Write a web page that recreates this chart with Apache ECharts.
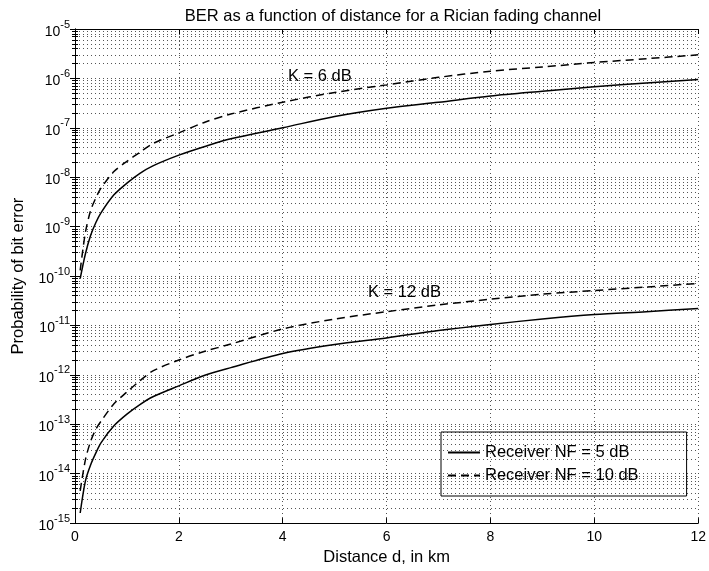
<!DOCTYPE html>
<html>
<head>
<meta charset="utf-8">
<script src="https://cdn.jsdelivr.net/npm/echarts@6/dist/echarts.min.js"></script>
<style>
html,body{margin:0;padding:0;background:#fff;}
#chart{width:709px;height:571px;}
</style>
</head>
<body>
<div id="chart"></div>
<script>
// Distance d (km)
var distance = [0.1, 0.2, 0.3, 0.4, 0.5, 0.75, 1, 1.25, 1.5, 2, 2.5, 3, 4, 5, 6, 7, 8, 9, 10, 11, 12];
// K = 6 dB, receiver NF = 5 dB
var k6_nf5 = [8.9e-11, 2.8e-10, 6.6e-10, 1.2e-9, 1.9e-9, 4.4e-9, 7.6e-9, 1.2e-8, 1.7e-8, 2.8e-8, 4.2e-8, 6.0e-8, 1.0e-7, 1.7e-7, 2.5e-7, 3.3e-7, 4.4e-7, 5.5e-7, 6.8e-7, 8.1e-7, 9.5e-7];
// K = 6 dB, receiver NF = 10 dB
var k6_nf10 = [1.3e-10, 7.6e-10, 2.1e-9, 3.8e-9, 6.0e-9, 1.3e-8, 2.1e-8, 3.2e-8, 4.8e-8, 7.9e-8, 1.3e-7, 1.9e-7, 3.3e-7, 5.2e-7, 7.4e-7, 1.05e-6, 1.4e-6, 1.7e-6, 2.1e-6, 2.5e-6, 3.0e-6];
// K = 12 dB, receiver NF = 5 dB
var k12_nf5 = [1.6e-15, 7.1e-15, 1.5e-14, 2.6e-14, 4.2e-14, 9.3e-14, 1.6e-13, 2.5e-13, 3.6e-13, 6.0e-13, 9.8e-13, 1.4e-12, 2.7e-12, 4.1e-12, 5.6e-12, 7.9e-12, 1.05e-11, 1.35e-11, 1.66e-11, 1.9e-11, 2.2e-11];
// K = 12 dB, receiver NF = 10 dB
var k12_nf10 = [4.5e-15, 1.9e-14, 4.5e-14, 7.9e-14, 1.15e-13, 2.6e-13, 4.5e-13, 7.6e-13, 1.2e-12, 2.0e-12, 3.0e-12, 4.2e-12, 8.5e-12, 1.35e-11, 1.9e-11, 2.6e-11, 3.4e-11, 4.3e-11, 5.1e-11, 6.0e-11, 7.1e-11];

var seriesNames = ['Receiver NF = 5 dB', 'Receiver NF = 10 dB'];
var xTicks = [0, 2, 4, 6, 8, 10, 12];
var titleText = 'BER as a function of distance for a Rician fading channel';
var xName = 'Distance d, in km';
var yName = 'Probability of bit error';
var annotations = ['K = 6 dB', 'K = 12 dB'];

function pairs(ys) { return distance.map(function (d, i) { return [d, ys[i]]; }); }

var FONT = '"Liberation Sans", Arial, Helvetica, sans-serif';
var FS = 16.5;
var chart = echarts.init(document.getElementById('chart'), null, {renderer: 'canvas'});

var solid = {type: 'solid', color: '#000', width: 1.5};
var dashed = {type: [8, 5], color: '#000', width: 1.5};

function mkSeries(name, data, ls) {
  return {
    name: name, type: 'line', data: pairs(data), showSymbol: false, symbol: 'none',
    smooth: 0.3, lineStyle: ls, itemStyle: {color: '#000'}, animation: false, z: 5
  };
}

var option = {
  animation: false,
  backgroundColor: '#fff',
  title: {
    text: titleText, left: 388, top: 3, textAlign: 'center',
    textStyle: {fontFamily: FONT, fontSize: FS, fontWeight: 'normal', color: '#000'}
  },
  grid: {left: 75, right: 9, top: 29, bottom: 47, containLabel: false},
  legend: {
    data: seriesNames, orient: 'vertical', left: 441, top: 432,
    itemWidth: 32, itemHeight: 14, itemGap: 6,
    padding: [12, 48, 12, 6],
    borderColor: '#000', borderWidth: 1,
    itemStyle: {opacity: 0},
    textStyle: {fontFamily: FONT, fontSize: FS, color: '#000'}
  },
  xAxis: [{
    type: 'value', min: 0, max: 12, interval: 2,
    name: xName, nameLocation: 'middle', nameGap: 25,
    nameTextStyle: {fontFamily: FONT, fontSize: FS, color: '#000'},
    axisLine: {show: true, lineStyle: {color: '#000', width: 1}},
    axisTick: {show: true, inside: true, length: 5, lineStyle: {color: '#000'}},
    axisLabel: {fontFamily: FONT, fontSize: 14, color: '#000', margin: 7,
      formatter: function (v) { return xTicks.indexOf(v) >= 0 ? String(v) : ''; }},
    splitLine: {show: true, lineStyle: {color: '#555', type: [1, 3], width: 1}}
  }, {
    type: 'value', min: 0, max: 12, interval: 2, position: 'top',
    axisLine: {show: true, lineStyle: {color: '#000', width: 1}},
    axisTick: {show: true, inside: true, length: 5, lineStyle: {color: '#000'}},
    axisLabel: {show: false}, splitLine: {show: false}
  }],
  yAxis: [{
    type: 'log', logBase: 10, min: 1e-15, max: 1e-5, splitNumber: 10,
    name: yName, nameLocation: 'middle', nameGap: 48, nameRotate: 90,
    nameTextStyle: {fontFamily: FONT, fontSize: FS, color: '#000'},
    axisLine: {show: true, lineStyle: {color: '#000', width: 1}},
    axisTick: {show: true, inside: true, length: 5, lineStyle: {color: '#000'}},
    minorTick: {show: true, splitNumber: 9, length: 3, lineStyle: {color: '#000'}},
    minorSplitLine: {show: true, lineStyle: {color: '#555', type: [1, 3], width: 1}},
    splitLine: {show: true, lineStyle: {color: '#555', type: [1, 3], width: 1}},
    axisLabel: {
      margin: 5, color: '#000',
      formatter: function (v) {
        var e = Math.round(Math.log(v) / Math.LN10);
        return '{b|10}{s|' + e + '}';
      },
      rich: {
        b: {fontFamily: FONT, fontSize: 14, color: '#000', lineHeight: 20, verticalAlign: 'bottom'},
        s: {fontFamily: FONT, fontSize: 11, color: '#000', lineHeight: 20, verticalAlign: 'top'}
      }
    }
  }, {
    type: 'log', logBase: 10, min: 1e-15, max: 1e-5, splitNumber: 10, position: 'right',
    axisLine: {show: true, lineStyle: {color: '#000', width: 1}},
    axisTick: {show: true, inside: true, length: 5, lineStyle: {color: '#000'}},
    minorTick: {show: true, splitNumber: 9, length: 3, lineStyle: {color: '#000'}},
    axisLabel: {show: false}, splitLine: {show: false}
  }],
  series: [
    mkSeries(seriesNames[0], k6_nf5, solid),
    mkSeries(seriesNames[1], k6_nf10, dashed),
    mkSeries(seriesNames[0], k12_nf5, solid),
    mkSeries(seriesNames[1], k12_nf10, dashed)
  ],
  graphic: [
    {type: 'text', left: 288, top: 68, z: 10,
      style: {text: annotations[0], font: FS + 'px ' + FONT, fill: '#000'}},
    {type: 'text', left: 368, top: 284, z: 10,
      style: {text: annotations[1], font: FS + 'px ' + FONT, fill: '#000'}}
  ]
};
chart.setOption(option);
</script>
</body>
</html>
